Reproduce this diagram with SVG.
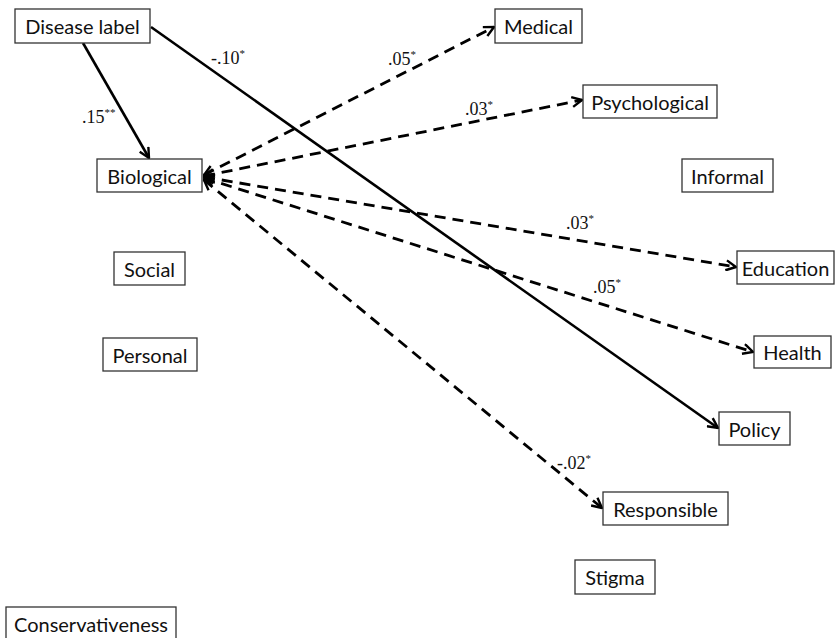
<svg xmlns="http://www.w3.org/2000/svg" width="836" height="638" viewBox="0 0 836 638">
<defs>
<style>
.box{fill:#fff;stroke:#333;stroke-width:1.3}
.lbl{font-family:Lato,"Noto Sans",sans-serif;font-size:20px;fill:#111;text-anchor:middle;dominant-baseline:central}
.solid{fill:none;stroke:#000;stroke-width:2.6}
.dash{fill:none;stroke:#000;stroke-width:2.8;stroke-dasharray:11 7}
.coef{font-family:"Liberation Serif",serif;font-size:18px;fill:#111}
.sup{font-size:11px}
</style>
<marker id="ah" viewBox="0 0 12 12" refX="11" refY="6" markerWidth="12" markerHeight="12" markerUnits="userSpaceOnUse" orient="auto-start-reverse">
<path d="M1,1 L11,6 L1,11" fill="none" stroke="#000" stroke-width="2.4"/>
</marker>
</defs>
<rect width="836" height="638" fill="#fff"/>
<g id="connectors">
<line class="solid" x1="83" y1="43" x2="149" y2="158" marker-end="url(#ah)"/>
<line class="solid" x1="151" y1="27" x2="718" y2="428" marker-end="url(#ah)"/>
<line class="dash" x1="204" y1="175" x2="494" y2="27" marker-start="url(#ah)" marker-end="url(#ah)"/>
<line class="dash" x1="204" y1="176" x2="582" y2="100" marker-start="url(#ah)" marker-end="url(#ah)"/>
<line class="dash" x1="204" y1="177" x2="736" y2="267" marker-start="url(#ah)" marker-end="url(#ah)"/>
<line class="dash" x1="204" y1="178" x2="753" y2="352" marker-start="url(#ah)" marker-end="url(#ah)"/>
<line class="dash" x1="204" y1="180" x2="602" y2="508" marker-start="url(#ah)" marker-end="url(#ah)"/>
</g>
<g id="labels">
<text class="coef" x="82" y="123">.15<tspan class="sup" dy="-7">**</tspan></text>
<text class="coef" x="211" y="64">-.10<tspan class="sup" dy="-7">*</tspan></text>
<text class="coef" x="388" y="65">.05<tspan class="sup" dy="-7">*</tspan></text>
<text class="coef" x="465" y="115">.03<tspan class="sup" dy="-7">*</tspan></text>
<text class="coef" x="566" y="229">.03<tspan class="sup" dy="-7">*</tspan></text>
<text class="coef" x="593" y="293">.05<tspan class="sup" dy="-7">*</tspan></text>
<text class="coef" x="557" y="469">-.02<tspan class="sup" dy="-7">*</tspan></text>
</g>
<g id="disease-label"><rect class="box" x="15" y="9" width="135" height="34"/><text class="lbl" x="82.5" y="26">Disease label</text></g>
<g id="biological"><rect class="box" x="97" y="159" width="105" height="33"/><text class="lbl" x="149.5" y="175.5">Biological</text></g>
<g id="medical"><rect class="box" x="495" y="9" width="87" height="34"/><text class="lbl" x="538.5" y="26">Medical</text></g>
<g id="psychological"><rect class="box" x="583" y="85" width="134" height="33"/><text class="lbl" x="650" y="101.5">Psychological</text></g>
<g id="informal"><rect class="box" x="682" y="159" width="91" height="33"/><text class="lbl" x="727.5" y="175.5">Informal</text></g>
<g id="education"><rect class="box" x="737" y="251" width="97" height="33"/><text class="lbl" x="785.5" y="267.5">Education</text></g>
<g id="health"><rect class="box" x="754" y="336" width="77" height="32"/><text class="lbl" x="792.5" y="352">Health</text></g>
<g id="policy"><rect class="box" x="719" y="412" width="71" height="33"/><text class="lbl" x="754.5" y="428.5">Policy</text></g>
<g id="responsible"><rect class="box" x="603" y="492" width="125" height="33"/><text class="lbl" x="665.5" y="508.5">Responsible</text></g>
<g id="stigma"><rect class="box" x="575" y="560" width="80" height="34"/><text class="lbl" x="615" y="577">Stigma</text></g>
<g id="social"><rect class="box" x="114" y="252" width="71" height="33"/><text class="lbl" x="149.5" y="268.5">Social</text></g>
<g id="personal"><rect class="box" x="103" y="338" width="94" height="33"/><text class="lbl" x="150" y="354.5">Personal</text></g>
<g id="conservativeness"><rect class="box" x="6" y="607" width="170" height="36"/><text class="lbl" x="91" y="624">Conservativeness</text></g>
</svg>
